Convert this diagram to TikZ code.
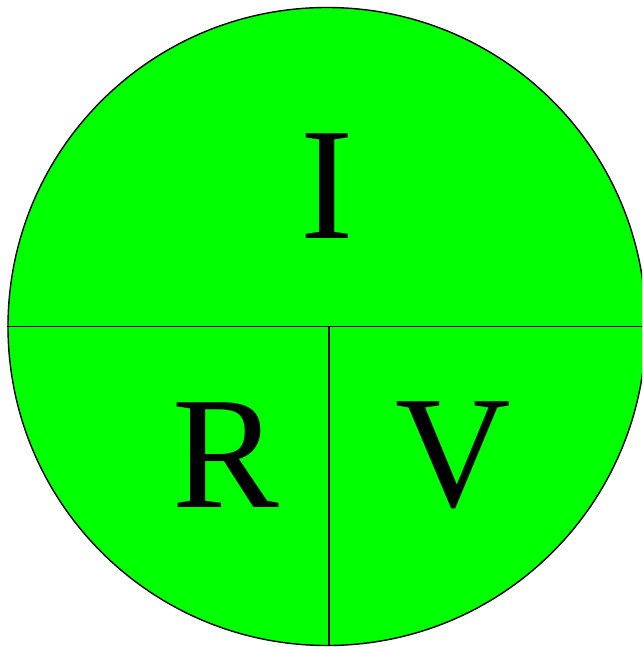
\documentclass[tikz,border=0pt]{standalone}
\usepackage{fontspec}
\setmainfont{Liberation Serif}
\definecolor{lgreen}{RGB}{0,255,0}
\begin{document}
\begin{tikzpicture}[x=1pt,y=-1pt,
  letter/.style={anchor=base,inner sep=0pt,font=\fontsize{160}{160}\selectfont},
  divider/.style={draw=black,line width=1.4pt}]
\useasboundingbox (0,0) rectangle (642,647);
\clip (0,0) rectangle (642,647);
\node[circle,fill=lgreen,draw=black,line width=1.4pt,minimum size=638pt,inner sep=0pt] (c) at (327,326.5) {};
\coordinate (hr) at (650,326.5);
\coordinate (vt) at (329,326.5);
\coordinate (vb) at (c.south -| vt);
\draw[divider] (c.west) -- (hr);
\draw[divider] (vt) -- (vb);
\node[letter] (I) at (327,238) {I};
\node[letter] (R) at (226,507) {R};
\node[letter] (V) at (453,506) {V};
\end{tikzpicture}
\end{document}
